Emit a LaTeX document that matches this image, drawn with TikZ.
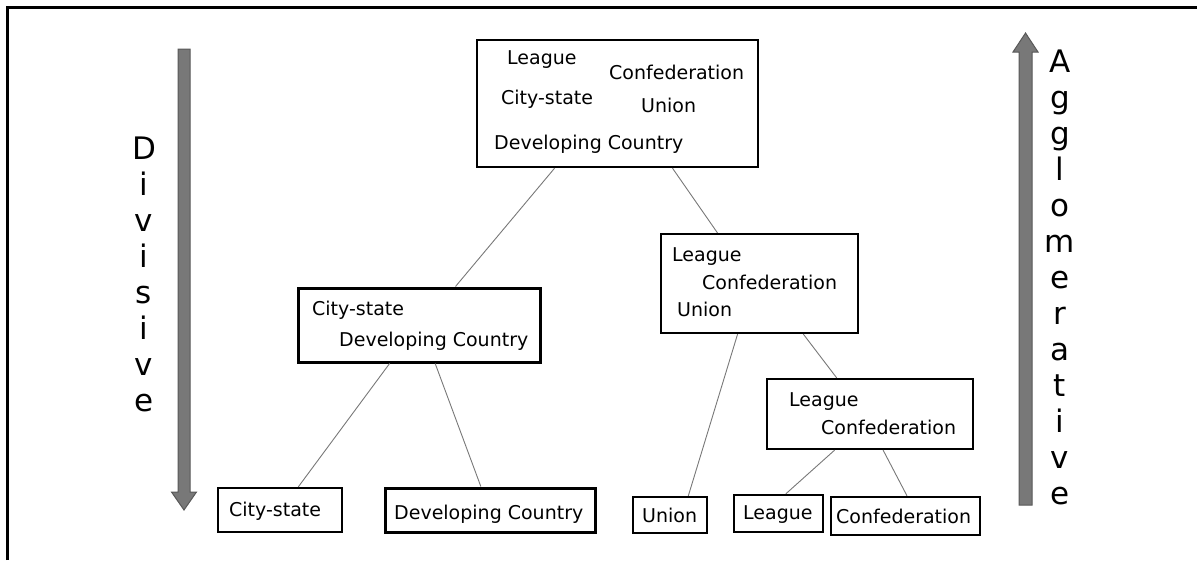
\documentclass[tikz,border=0pt]{standalone}
\usepackage{fontspec}
\setmainfont{DejaVu Sans}
\usetikzlibrary{calc}
\definecolor{arrowfill}{RGB}{120,120,120}
\definecolor{arrowedge}{RGB}{88,88,88}
\definecolor{linkgray}{RGB}{120,120,120}
\begin{document}
\begin{tikzpicture}[x=1pt,y=-1pt,
  box/.style={draw=black, line width=2.3pt, fill=white, inner sep=0pt},
  heavybox/.style={box, line width=3pt},
  lbl/.style={anchor=base west, inner sep=0pt, font=\fontsize{19}{22}\selectfont},
  link/.style={draw=linkgray, line width=0.9pt},
  side/.style={inner sep=0pt, anchor=north, align=center, font=\fontsize{31}{36}\selectfont},
  bigarrow/.style={fill=arrowfill, draw=arrowedge, line width=1pt, line join=miter}
]
\useasboundingbox (0,0) rectangle (1197,560);

% outer frame (left and top edges)
\draw[line width=2.5pt] (7.5,560) -- (7.5,7.5) -- (1197,7.5);

% direction arrows
\filldraw[bigarrow] (178,49) -- (190,49) -- (190,492) -- (196.5,492) -- (184,510)
  -- (171.5,492) -- (178,492) -- cycle;
\filldraw[bigarrow] (1019,505) -- (1032,505) -- (1032,52) -- (1038,52) -- (1025.5,33)
  -- (1013,52) -- (1019,52) -- cycle;

\node[side] (divisive) at (144,137) {D\\i\\v\\i\\s\\i\\v\\e};
\node[side] (agglo) at (1060,50) {A\\g\\g\\l\\o\\m\\e\\r\\a\\t\\i\\v\\e};

% cluster boxes
\node[box, minimum width=281pt, minimum height=127pt] (root) at (617.5,103.5) {};
\node[heavybox, minimum width=242pt, minimum height=74pt] (cd) at (419,325) {};
\node[box, minimum width=197pt, minimum height=99pt] (lcu) at (759.5,283.5) {};
\node[box, minimum width=206pt, minimum height=70pt] (lc) at (870,414) {};
\node[box, minimum width=124pt, minimum height=44pt] (cs) at (280,510) {};
\node[heavybox, minimum width=210pt, minimum height=44pt] (dc) at (490,510) {};
\node[box, minimum width=74pt, minimum height=36pt] (un) at (670,515) {};
\node[box, minimum width=89pt, minimum height=37pt] (lg) at (778.5,513.5) {};
\node[box, minimum width=149pt, minimum height=38pt] (cf) at (905.5,516) {};

% connectors
\draw[link] ($(root.south west)!0.278!(root.south east)$) -- ($(cd.north west)!0.649!(cd.north east)$);
\draw[link] ($(root.south west)!0.694!(root.south east)$) -- ($(lcu.north west)!0.289!(lcu.north east)$);
\draw[link] ($(cd.south west)!0.38!(cd.south east)$) -- ($(cs.north west)!0.645!(cs.north east)$);
\draw[link] ($(cd.south west)!0.566!(cd.south east)$) -- ($(dc.north west)!0.457!(dc.north east)$);
\draw[link] ($(lcu.south west)!0.39!(lcu.south east)$) -- ($(un.north west)!0.74!(un.north east)$);
\draw[link] ($(lcu.south west)!0.72!(lcu.south east)$) -- ($(lc.north west)!0.34!(lc.north east)$);
\draw[link] ($(lc.south west)!0.33!(lc.south east)$) -- ($(lg.north west)!0.58!(lg.north east)$);
\draw[link] ($(lc.south west)!0.563!(lc.south east)$) -- ($(cf.north west)!0.51!(cf.north east)$);

% labels inside the boxes
\node[lbl] (root-l) at (507,64) {League};
\node[lbl] (root-c) at (609,79) {Confederation};
\node[lbl] (root-s) at (501,104) {City-state};
\node[lbl] (root-u) at (641,112) {Union};
\node[lbl] (root-d) at (494,149) {Developing Country};

\node[lbl] (cd-s) at (312,315) {City-state};
\node[lbl] (cd-d) at (339,346) {Developing Country};

\node[lbl] (lcu-l) at (672,261) {League};
\node[lbl] (lcu-c) at (702,289) {Confederation};
\node[lbl] (lcu-u) at (677,316) {Union};

\node[lbl] (lc-l) at (789,406) {League};
\node[lbl] (lc-c) at (821,434) {Confederation};

\node[lbl] (cs-t) at (229,516) {City-state};
\node[lbl] (dc-t) at (394,519) {Developing Country};
\node[lbl] (un-t) at (642,522) {Union};
\node[lbl] (lg-t) at (743,519) {League};
\node[lbl] (cf-t) at (836,523) {Confederation};
\end{tikzpicture}
\end{document}
